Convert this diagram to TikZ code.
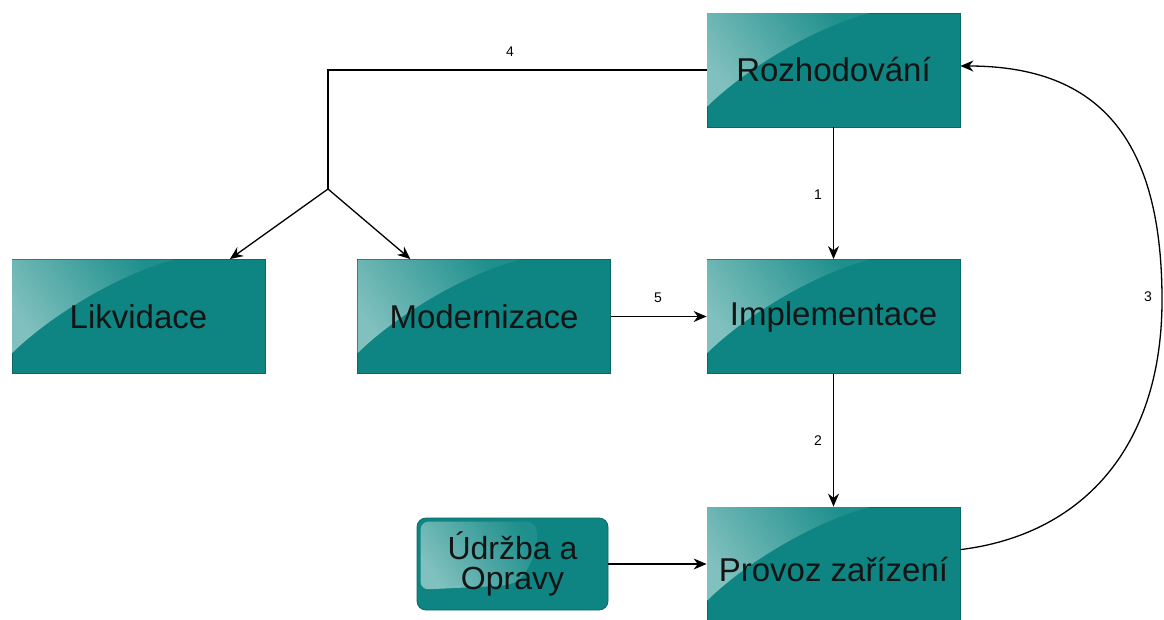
\documentclass[tikz,border=0pt]{standalone}
\usepackage{fontspec}
\setmainfont{Liberation Sans}
\usetikzlibrary{arrows.meta,calc}
\definecolor{boxteal}{RGB}{14,133,130}
\definecolor{boxedge}{RGB}{10,105,102}
\definecolor{glosslight}{RGB}{128,192,190}
\definecolor{glossdark}{RGB}{30,143,140}
\tikzset{
  arr/.style={-{Stealth[length=13pt,width=11pt]}, line width=1.3pt, black},
  link/.style={line width=1.3pt, black},
  numlabel/.style={font=\fontsize{14}{16}\selectfont, inner sep=0pt},
  stage/.style={rectangle, fill=boxteal, draw=boxedge, line width=0.8pt,
    minimum width=253pt, minimum height=114pt, inner sep=0pt},
  helper/.style={rectangle, rounded corners=9pt, fill=boxteal, draw=boxedge,
    line width=0.8pt, minimum width=191pt, minimum height=92pt, inner sep=0pt},
  caption/.style={font=\fontsize{33}{38}\selectfont, text=black!92, inner sep=0pt},
  gloss/.style={left color=glosslight, right color=glossdark, shading angle=125},
}
% light sheen in the upper left corner of a stage box
\newcommand\sheen[1]{%
  \begin{scope}[shift={(#1.north west)}]
    \shade[gloss] (0.5,0.5) -- (163,0.5) .. controls (110,14) and (40,55) .. (0.5,94) -- cycle;
  \end{scope}}
\begin{document}
\begin{tikzpicture}[x=1pt,y=-1pt]
  \useasboundingbox (0,0) rectangle (1164,619);
  \begin{scope}
    \clip (0,0) rectangle (1164,619);

    % process stages: box, sheen, caption
    \node[stage] (roz) at (833.5,70) {};
    \node[stage] (impl) at (833.5,316.5) {};
    \node[stage] (prov) at (833.5,570) [minimum height=126pt] {};
    \node[stage] (lik) at (138.5,316.5) {};
    \node[stage] (mod) at (484,316.5) {};
    \node[helper] (udr) at (512.5,564) {};
    \foreach \b in {roz,impl,prov,lik,mod} {\sheen{\b}}
    \begin{scope}[shift={(udr.north west)}]
      \shade[gloss, rounded corners=8pt] (4,4) -- (118,4)
        .. controls (124,30) and (110,60) .. (90,68) -- (4,72) -- cycle;
    \end{scope}
    \node[caption] (roztext) at (roz.center) {Rozhodování};
    \node[caption] (impltext) at (impl.center) {Implementace};
    \node[caption] (provtext) at (prov.center) {Provoz zařízení};
    \node[caption] (liktext) at (lik.center) {Likvidace};
    \node[caption] (modtext) at (mod.center) {Modernizace};
    \node[caption, align=center, font=\fontsize{32}{30}\selectfont] (udrtext) at (udr.center) {Údržba a\\Opravy};

    % decision fork towards disposal / modernisation
    \coordinate (fork) at (328,189);
    \draw[link] (roz.west) -| (fork);
    \draw[arr] (fork) -- ($(lik.north west)!0.86!(lik.north east)$);
    \draw[arr] (fork) -- ($(mod.north west)!0.21!(mod.north east)$);
    \node[numlabel] (l4) at (510,52) {4};

    % main cycle
    \draw[arr] (roz.south) -- (impl.north);
    \node[numlabel] (l1) at (818,195) {1};
    \draw[arr] (impl.south) -- (prov.north);
    \node[numlabel] (l2) at (818,441) {2};
    \draw[arr] (mod.east) -- (impl.west);
    \node[numlabel] (l5) at (658,298) {5};
    \draw[arr] (udr.east) -- (udr.east -| prov.west);

    % feedback from operation back to decision
    \coordinate (fbstart) at ($(prov.north east)+(0,43)$);
    \draw[arr] (fbstart) .. controls (1080,535) and (1162,450) .. (1162,300)
      .. controls (1162,140) and (1100,66) .. ([yshift=4pt]roz.east);
    \node[numlabel] (l3) at (1148,297) {3};
  \end{scope}
\end{tikzpicture}
\end{document}
